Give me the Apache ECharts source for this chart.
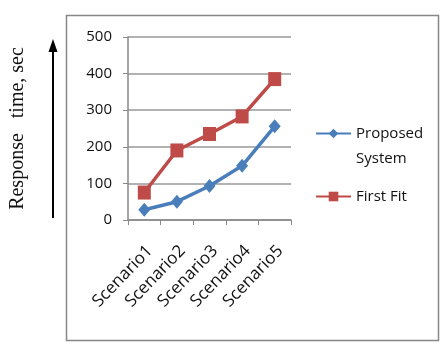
<!DOCTYPE html>
<html>
<head>
<meta charset="utf-8">
<script src="https://cdn.jsdelivr.net/npm/echarts@6/dist/echarts.min.js"></script>
<style>
  html, body { margin: 0; padding: 0; background: #fff; }
  #chart { width: 448px; height: 350px; }
</style>
</head>
<body>
<div id="chart"></div>
<script>
const categories = ['Scenario1', 'Scenario2', 'Scenario3', 'Scenario4', 'Scenario5'];
const proposedSystem = [28, 50, 93, 148, 256];
const firstFit = [75, 190, 235, 283, 385];
const yTicks = [0, 100, 200, 300, 400, 500];

const chart = echarts.init(document.getElementById('chart'));
const labelFont = '"Open Sans", "Liberation Sans", sans-serif';

chart.setOption({
  animation: false,
  backgroundColor: '#fff',
  grid: { left: 128, right: 157, top: 37, bottom: 130 },
  legend: {
    orient: 'vertical',
    left: 315,
    top: 96,
    padding: 0,
    itemWidth: 35,
    itemHeight: 12,
    itemGap: 13,
    textStyle: { fontFamily: labelFont, fontSize: 15, color: '#111', lineHeight: 25 },
    // leading blank line keeps the marker level with the first text line
    formatter: (name) => (name.indexOf('\n') >= 0 ? '\n' + name : name),
    data: [
      { name: 'Proposed\nSystem' },
      { name: 'First Fit' }
    ]
  },
  xAxis: {
    type: 'category',
    data: categories,
    boundaryGap: true,
    axisLine: { lineStyle: { color: '#888', width: 1.5 } },
    axisTick: { show: true, alignWithLabel: false, length: 5, lineStyle: { color: '#888' } },
    axisLabel: {
      rotate: 46,
      fontFamily: labelFont,
      fontSize: 17,
      color: '#111',
      margin: 34,
      padding: [0, -8, 0, 0]
    }
  },
  yAxis: {
    type: 'value',
    min: yTicks[0],
    max: yTicks[yTicks.length - 1],
    interval: 100,
    name: 'Response   time, sec',
    nameLocation: 'middle',
    nameGap: 100,
    nameTextStyle: { fontFamily: '"Liberation Serif", serif', fontSize: 20, color: '#111' },
    axisLine: { show: true, lineStyle: { color: '#888', width: 1.5 } },
    axisTick: { show: true, length: 5, lineStyle: { color: '#888' } },
    axisLabel: { fontFamily: labelFont, fontSize: 15, color: '#111', margin: 16 },
    splitLine: { lineStyle: { color: '#999', width: 1.5 } }
  },
  graphic: [
    {
      type: 'rect',
      shape: { x: 66.5, y: 15.5, width: 372, height: 325 },
      style: { fill: 'none', stroke: '#888', lineWidth: 1.5 },
      silent: true
    },
    {
      type: 'line',
      shape: { x1: 53, y1: 48, x2: 53, y2: 218 },
      style: { stroke: '#000', lineWidth: 2 }
    },
    {
      type: 'polygon',
      shape: { points: [[53, 39], [48.5, 52], [57.5, 52]] },
      style: { fill: '#000' }
    }
  ],
  series: [
    {
      name: 'Proposed\nSystem',
      type: 'line',
      data: proposedSystem,
      color: '#4a7ebb',
      symbol: 'diamond',
      symbolSize: [12, 14],
      lineStyle: { width: 3.5 },
      itemStyle: { color: '#4a7ebb' }
    },
    {
      name: 'First Fit',
      type: 'line',
      data: firstFit,
      color: '#be4b48',
      symbol: 'rect',
      symbolSize: [13, 14],
      lineStyle: { width: 3.5 },
      itemStyle: { color: '#be4b48' }
    }
  ]
});
</script>
</body>
</html>
